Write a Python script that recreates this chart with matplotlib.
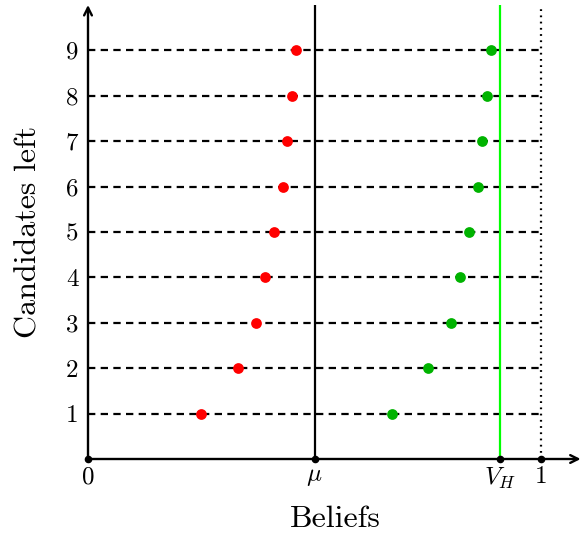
import matplotlib
matplotlib.use("Agg")
import matplotlib.pyplot as plt

plt.rcParams['font.family'] = 'serif'
plt.rcParams['font.serif'] = ['cmr10']
plt.rcParams['mathtext.fontset'] = 'cm'
plt.rcParams['axes.unicode_minus'] = False

# data
candidates = [1, 2, 3, 4, 5, 6, 7, 8, 9]
red_beliefs = [0.25, 0.33, 0.37, 0.39, 0.41, 0.43, 0.44, 0.45, 0.46]
green_beliefs = [0.67, 0.75, 0.80, 0.82, 0.84, 0.86, 0.87, 0.88, 0.89]
mu = 0.5
v_h = 0.91
x_ticks = [0, mu, v_h, 1]
x_labels = ['0', r'$\mu$', r'$V_H$', '1']

fig = plt.figure(figsize=(5.82, 5.38), dpi=100)
ax = fig.add_axes([88 / 582, 79 / 538, 494 / 582, 454 / 538])
ax.set_xlim(0, 1.09)
ax.set_ylim(0, 10)
for s in ax.spines.values():
    s.set_visible(False)

# horizontal dashed lines
for c in candidates:
    ax.plot([0, 1], [c, c], color='black', lw=1.6, linestyle=(0, (3.3, 2.4)))

ax.plot([mu, mu], [0, 10], color='black', lw=1.6)
ax.plot([v_h, v_h], [0, 10], color='#00ff00', lw=1.6)
ax.plot([1, 1], [0, 10], color='black', lw=1.6, linestyle=(0, (0.8, 2.0)))

ax.scatter(red_beliefs, candidates, s=60, color='#ff0000', zorder=5, linewidths=0)
ax.scatter(green_beliefs, candidates, s=60, color='#00b300', zorder=5, linewidths=0)

# axes with arrows
ax.annotate('', xy=(1.087, 0), xytext=(0, 0), annotation_clip=False,
            arrowprops=dict(arrowstyle='->', lw=1.7, color='black',
                            shrinkA=0, shrinkB=0, mutation_scale=14))
ax.annotate('', xy=(0, 10), xytext=(0, 0), annotation_clip=False,
            arrowprops=dict(arrowstyle='->', lw=1.7, color='black',
                            shrinkA=0, shrinkB=0, mutation_scale=14))
ax.scatter(x_ticks, [0] * 4, s=20, color='black', zorder=6, clip_on=False)

ax.set_xticks(x_ticks)
ax.set_xticklabels(x_labels, fontsize=18)
ax.set_yticks(candidates)
ax.set_yticklabels([str(c) for c in candidates], fontsize=18)
ax.tick_params(axis='x', length=0, pad=5)
ax.tick_params(axis='y', length=0, pad=7)

ax.set_xlabel('Beliefs', fontsize=23, labelpad=10)
ax.set_ylabel('Candidates left', fontsize=23, labelpad=17)

fig.savefig('out.png', dpi=100)
